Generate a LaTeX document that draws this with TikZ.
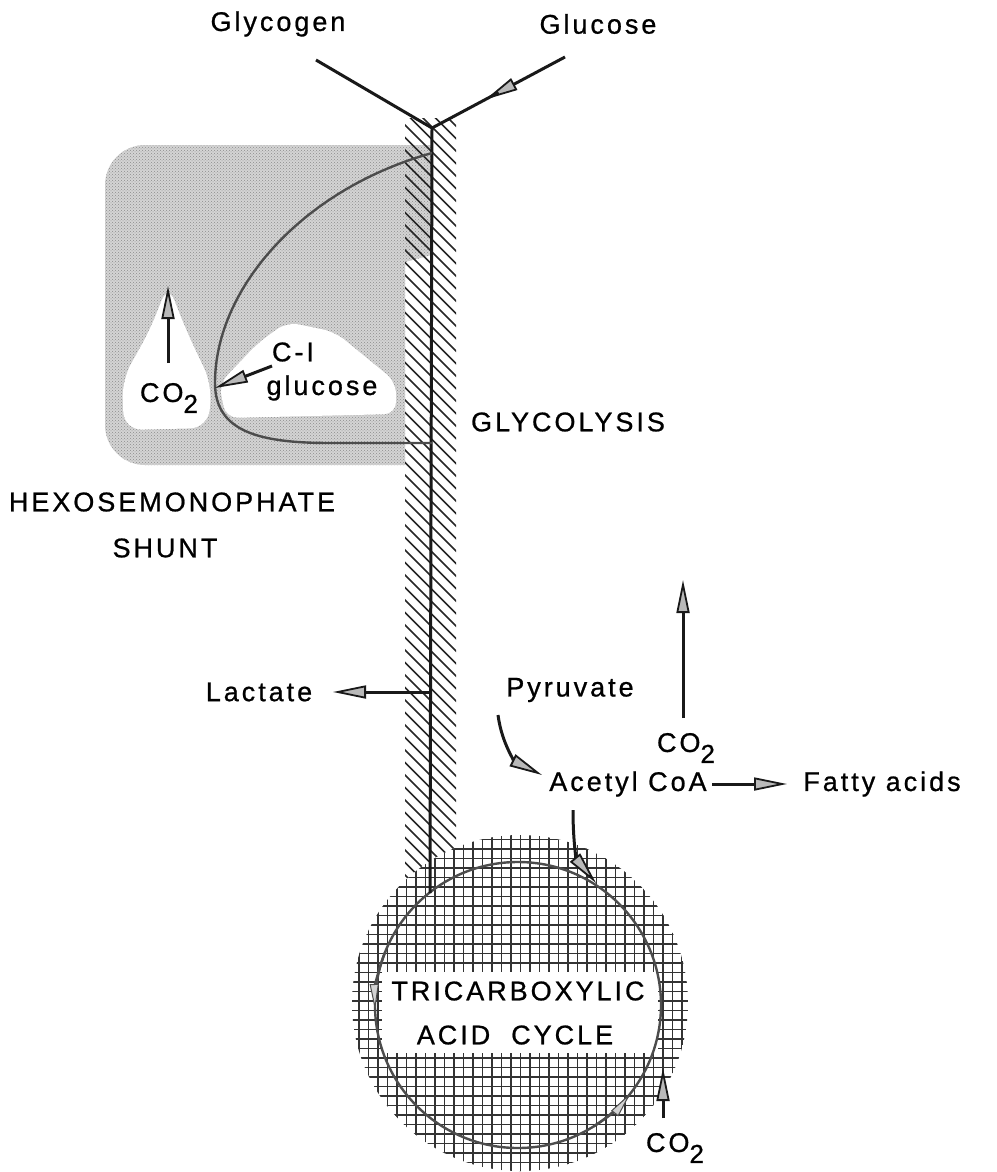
\documentclass[tikz,border=0pt]{standalone}
\usepackage{fontspec}
\setmainfont{Liberation Sans}[LetterSpace=11,FakeBold=0.8]
\usetikzlibrary{arrows.meta,calc,patterns}
\tikzset{
  lbl/.style={inner sep=0pt, font=\fontsize{27}{32}\selectfont},
  garrow/.style={-{Triangle[length=33pt,width=13pt,fill=gray!55,line width=1.8pt]}},
  pw/.style={line width=3pt, black!90},
  cyc/.style={line width=2.4pt, black!70},
  ctip/.style={-{Triangle[length=26pt,width=9pt,fill=gray!35,line width=1pt]}},
}
\newcommand{\cotwo}{CO\raisebox{-11pt}{\fontsize{26}{30}\selectfont 2}}
\begin{document}
\begin{tikzpicture}[x=1pt,y=-1pt]
\useasboundingbox (0,0) rectangle (996,1172);
% coordinates
\coordinate (j) at (432,128);
\coordinate (gly) at (316,60);
\coordinate (glu) at (565,57);
\coordinate (s1) at (432,153);
\coordinate (s2) at (432,443);
\coordinate (lacj) at (432,692);
\coordinate (C) at (518,1005);
\coordinate (vb) at (430,893);
% stipple region (hexose monophosphate shunt)
\path[fill=black!17, postaction={pattern=crosshatch dots, pattern color=black!45}] (405,465) [rounded corners=40] -- (105,465) -- (105,145) -- (300,145) [sharp corners] -- (432,145) -- (432,255) -- (405,262) -- cycle;
\fill[white, rounded corners=18] (168,284) -- (186,330) -- (212,385) -- (208,428) -- (124,430) -- (122,380) -- (150,330) -- cycle;
\fill[white, rounded corners=12] (287,322) -- (335,332) -- (396,382) -- (396,414) -- (226,418) -- (219,384) -- (258,343) -- cycle;
% hatched glycolysis band
\begin{scope}
\clip (405,118) rectangle (456,885);
\foreach \k in {0,...,66}{
  \draw[line width=1.7pt, black!85] (400,{70+12.5*\k}) -- +(60,60);
}
\end{scope}
% cross-hatched TCA disk
\begin{scope}
\clip (520,1003) circle (168);
\fill[white] (520,1003) circle (168);
\foreach \k in {0,...,38}{
  \draw[line width=1.4pt, black!80] ({340+9.5*\k},830) -- ({340+9.5*\k},1180);
  \draw[line width=1.4pt, black!80] (340,{830+9.5*\k}) -- (700,{830+9.5*\k});
}
\end{scope}
\fill[white] (382,972) rectangle (658,1053);
% cycle circle
\draw[cyc] (C) circle (143);
\draw[cyc, ctip] ($(C)+(202:143)$) arc (202:178:143);
\draw[cyc, ctip] ($(C)+(58:143)$) arc (58:38:143);
% main pathway lines
\draw[pw] (gly) -- (j);
\draw[pw, garrow] (glu) -- ($(glu)!0.6!(j)$);
\draw[pw] ($(glu)!0.5!(j)$) -- (j);
\draw[pw] (j) -- (vb);
\draw[cyc] (s1) .. controls (300,190) and (215,290) .. (215,383) .. controls (215,432) and (260,443) .. (330,443) -- (s2);
\draw[pw, garrow] (lacj) -- (333,692);
% labels
\node[lbl] (nglycogen) at (278,24) {Glycogen};
\node[lbl] (nglucose) at (598,24) {Glucose};
\node[lbl] (nc1) at (293,352) {C-I};
\node[lbl] (nc1g) at (322,388) {glucose};
\node[lbl] (nco2a) at (169,398) {\cotwo};
\node[lbl] (nglyc) at (568,422) {GLYCOLYSIS};
\node[lbl] (nhex) at (172,502) {HEXOSEMONOPHATE};
\node[lbl] (nshunt) at (165,548) {SHUNT};
\node[lbl] (nlac) at (259,692) {Lactate};
\node[lbl] (npyr) at (570,690) {Pyruvate};
\node[lbl] (nco2b) at (686,748) {\cotwo};
\node[lbl] (nacet) at (628,784) {Acetyl CoA};
\node[lbl] (nfat) at (882,784) {Fatty acids};
\node[lbl] (ntri) at (518,991) {TRICARBOXYLIC};
\node[lbl] (nacid) at (515,1035) {ACID\ \ CYCLE};
\node[lbl] (nco2c) at (675,1148) {\cotwo};
% small arrows
\draw[pw, garrow] (272,366) -- (215,388);
\draw[pw, garrow] (168,363) -- (168,286);
\draw[pw, garrow] (683,718) -- (683,580);
\draw[pw, garrow] (712,784) -- (787,784);
\draw[pw, garrow] (498,715) .. controls (502,745) and (516,762) .. (542,775);
\draw[pw, garrow] (573,810) .. controls (573,845) and (577,860) .. (596,883);
\draw[pw, garrow] (663,1118) -- (663,1068);
\end{tikzpicture}
\end{document}
